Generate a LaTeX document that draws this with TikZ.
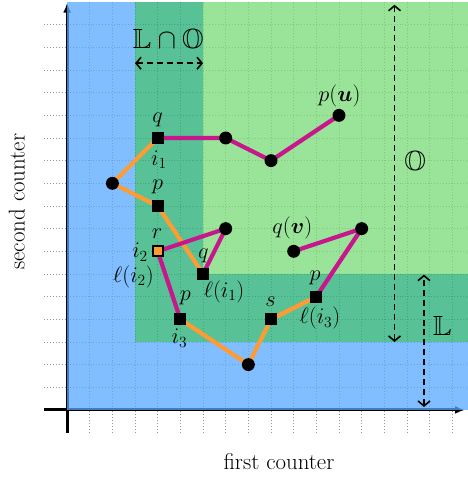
\documentclass[tikz,border=0pt]{standalone}
\usepackage{amsmath,amssymb}
\usetikzlibrary{arrows.meta}
\definecolor{cblue}{RGB}{86,168,255}
\definecolor{clgreen}{RGB}{119,219,119}
\definecolor{cdgreen}{RGB}{32,174,115}
\definecolor{corange}{RGB}{255,155,50}
\definecolor{cmag}{RGB}{200,22,140}
\definecolor{cgrid}{RGB}{150,150,150}
\tikzset{
  gridline/.style={draw=cgrid, line width=0.7pt, dash pattern=on 0.9pt off 2pt},
  axisline/.style={line width=3pt, -{Latex[length=10pt,width=8pt]}},
  region/.style={fill opacity=0.75},
  sqnode/.style={rectangle, fill=black, minimum size=12pt, inner sep=0pt},
  osqnode/.style={rectangle, fill=corange, draw=black, line width=2pt, minimum size=10pt, inner sep=0pt},
  dotnode/.style={circle, fill=black, minimum size=13pt, inner sep=0pt},
  lab/.style={font=\fontsize{20.74}{25}\selectfont, inner sep=0pt, scale=1.08},
  titlelab/.style={font=\fontsize{23}{27}\selectfont, inner sep=0pt},
  biglab/.style={font=\fontsize{24.88}{30}\selectfont, inner sep=0pt, scale=1.12},
  opath/.style={draw=corange, line width=4.2pt},
  mpath/.style={draw=cmag, line width=4.2pt, line join=round},
  dimarrow/.style={line width=1.7pt, dash pattern=on 6pt off 4pt,
    {Straight Barb[length=5pt,width=12pt,line width=1.6pt]}-{Straight Barb[length=5pt,width=12pt,line width=1.6pt]}}
}
\begin{document}
\begin{tikzpicture}[x=0.8cm,y=0.8cm]
\useasboundingbox (-2.96,-2.96) rectangle (17.65,18.09);
% grid
\foreach \i in {1,...,17} {
  \draw[gridline] (-1,\i) -- (17.8,\i);
  \draw[gridline] (\i,-1) -- (\i,18);
}
% axes
\coordinate (O0x) at (-1,0);
\coordinate (Xend) at (17.56,0);
\coordinate (O0y) at (0,-1);
\coordinate (Yend) at (0,17.97);
\draw[axisline] (O0x) -- (Xend);
\draw[axisline] (O0y) -- (Yend);
% regions
\fill[region, cblue] (0,0) -- (17.8,0) -- (17.8,3) -- (3,3) -- (3,18) -- (0,18) -- cycle;
\fill[region, cdgreen] (3,3) -- (17.8,3) -- (17.8,6) -- (6,6) -- (6,18) -- (3,18) -- cycle;
\fill[region, clgreen] (6,6) rectangle (17.8,18);
% dimension arrows
\coordinate (LOa) at (3,15.3);
\coordinate (LOb) at (6,15.3);
\coordinate (Oa) at (14.45,3);
\coordinate (Ob) at (14.45,17.88);
\coordinate (La) at (15.75,0.13);
\coordinate (Lb) at (15.75,5.97);
\draw[dimarrow] (LOa) -- (LOb);
\draw[dimarrow] (Oa) -- (Ob);
\draw[dimarrow] (La) -- (Lb);
\node[biglab] (tLO) at (4.47,16.25) {$\mathbb{L}\cap\mathbb{O}$};
\node[biglab] (tO) at (15.36,10.87) {$\mathbb{O}$};
\node[biglab] (tL) at (16.56,3.69) {$\mathbb{L}$};
% points
\coordinate (A) at (4,12);
\coordinate (B) at (7,12);
\coordinate (C) at (9,11);
\coordinate (D) at (12,13);
\coordinate (E) at (2,10);
\coordinate (F) at (4,9);
\coordinate (G) at (4,7);
\coordinate (H) at (7,8);
\coordinate (I) at (6,6);
\coordinate (J) at (5,4);
\coordinate (K) at (8,2);
\coordinate (M) at (9,4);
\coordinate (N) at (11,5);
\coordinate (P) at (13,8);
\coordinate (Q) at (10,7);
% paths
\draw[opath] (E) -- (A);
\draw[opath] (E) -- (F) -- (I);
\draw[opath] (J) -- (K) -- (M) -- (N);
\draw[mpath] (A) -- (B) -- (C) -- (D);
\draw[mpath] (G) -- (H) -- (I);
\draw[mpath] (G) -- (J);
\draw[mpath] (Q) -- (P) -- (N);
% markers
\node[sqnode] (nA) at (A) {};
\node[dotnode] (nB) at (B) {};
\node[dotnode] (nC) at (C) {};
\node[dotnode] (nD) at (D) {};
\node[dotnode] (nE) at (E) {};
\node[sqnode] (nF) at (F) {};
\node[osqnode] (nG) at (G) {};
\node[dotnode] (nH) at (H) {};
\node[sqnode] (nI) at (I) {};
\node[sqnode] (nJ) at (J) {};
\node[dotnode] (nK) at (K) {};
\node[sqnode] (nM) at (M) {};
\node[sqnode] (nN) at (N) {};
\node[dotnode] (nP) at (P) {};
\node[dotnode] (nQ) at (Q) {};
% labels
\node[lab] (lq1) at (4.0,12.82) {$q$};
\node[lab] (li1) at (4.05,11.03) {$i_1$};
\node[lab] (lp1) at (4.0,9.84) {$p$};
\node[lab] (lr) at (3.97,7.76) {$r$};
\node[lab] (li2) at (3.22,6.96) {$i_2$};
\node[lab] (lli2) at (2.93,5.88) {$\ell(i_2)$};
\node[lab] (lq2) at (6.01,6.78) {$q$};
\node[lab] (lli1) at (6.93,5.22) {$\ell(i_1)$};
\node[lab] (lp2) at (5.22,4.93) {$p$};
\node[lab] (li3) at (4.96,3.16) {$i_3$};
\node[lab] (ls) at (8.98,4.78) {$s$};
\node[lab] (lp3) at (10.94,5.81) {$p$};
\node[lab] (lli3) at (11.16,4.04) {$\ell(i_3)$};
\node[lab] (lqv) at (9.94,8.01) {$q(\boldsymbol{v})$};
\node[lab] (lpu) at (12.02,13.85) {$p(\boldsymbol{u})$};
% axis titles
\node[titlelab] (xt) at (9.35,-2.3) {first counter};
\node[titlelab, rotate=90] (yt) at (-2.22,9.19) {second counter};
\end{tikzpicture}
\end{document}
